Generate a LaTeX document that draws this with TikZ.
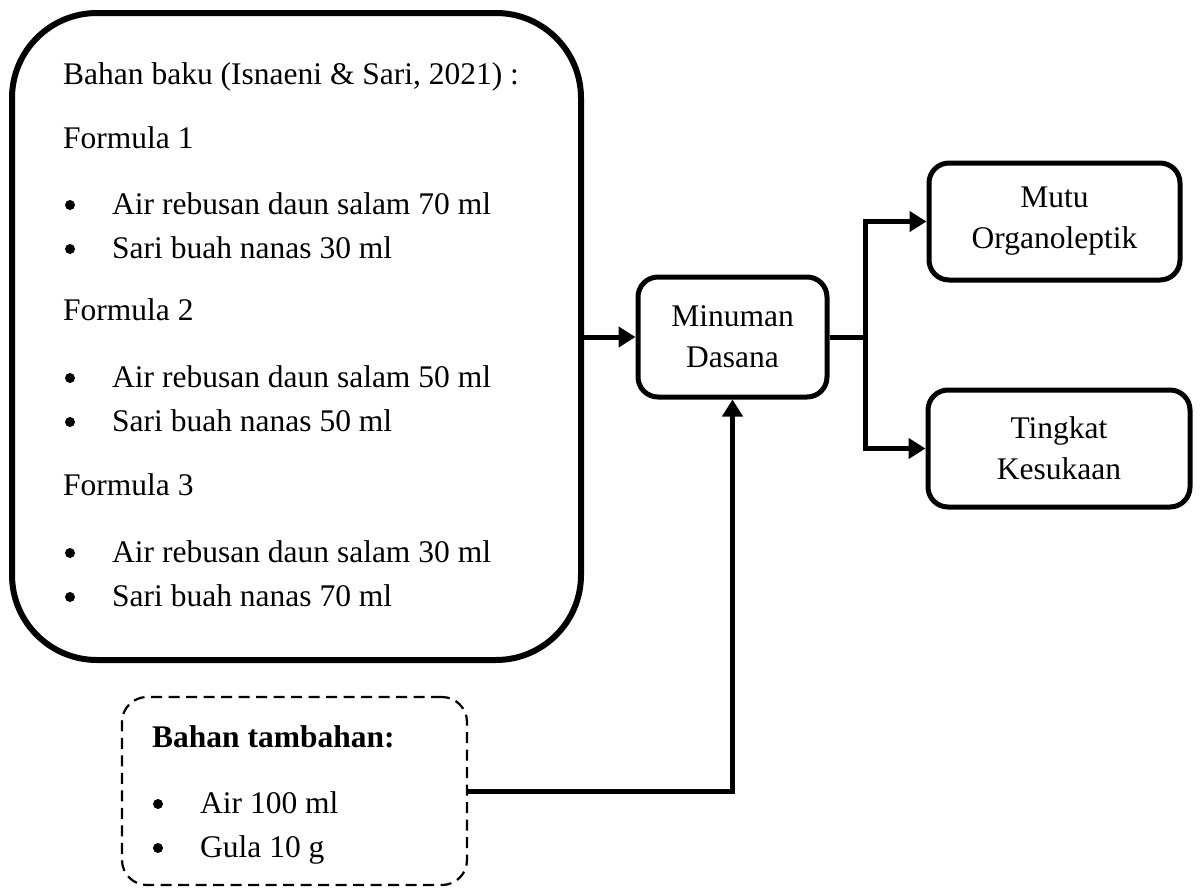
\documentclass[tikz,border=0pt]{standalone}
\usepackage{fontspec}
\setmainfont{Liberation Serif}
\usetikzlibrary{arrows.meta}
\begin{document}
\begin{tikzpicture}[x=1pt,y=-1pt,
  every node/.style={font=\fontsize{31.5}{41}\selectfont, inner sep=0pt},
  bigbox/.style={draw, line width=6pt, rounded corners=85pt},
  procbox/.style={draw, line width=5pt, rounded corners=20pt, align=center},
  dashbox/.style={draw, line width=2.2pt, dash pattern=on 11pt off 6.5pt, rounded corners=25pt},
  conn/.style={line width=5pt, -{Triangle[length=17pt,width=20pt]}},
  plain/.style={line width=5pt},
  txt/.style={anchor=base west},
  dot/.style={circle, fill=black, minimum size=10pt}
]
\useasboundingbox (0,0) rectangle (1200,887);

% boxes
\node[bigbox, minimum width=569pt, minimum height=647pt] (main) at (296.5,336.5) {};
\node[procbox, minimum width=189pt, minimum height=120pt] (minum) at (732.5,337) {Minuman\\Dasana};
\node[procbox, minimum width=251pt, minimum height=117pt] (mutu) at (1054.5,221.5) {Mutu\\Organoleptik};
\node[procbox, minimum width=262pt, minimum height=117pt] (suka) at (1059,448.5) {Tingkat\\Kesukaan};
\node[dashbox, minimum width=345pt, minimum height=188pt] (add) at (294.5,791) {};

% main box text
\node[txt] (t0) at (63,84) {Bahan baku (Isnaeni \& Sari, 2021) :};
\node[txt] (f1) at (63,148) {Formula 1};
\node[dot] (b11) at (70,205) {};
\node[txt] (t11) at (112,214) {Air rebusan daun salam 70 ml};
\node[dot] (b12) at (70,249) {};
\node[txt] (t12) at (112,258) {Sari buah nanas 30 ml};
\node[txt] (f2) at (63,320) {Formula 2};
\node[dot] (b21) at (70,378) {};
\node[txt] (t21) at (112,387) {Air rebusan daun salam 50 ml};
\node[dot] (b22) at (70,422) {};
\node[txt] (t22) at (112,431) {Sari buah nanas 50 ml};
\node[txt] (f3) at (63,495) {Formula 3};
\node[dot] (b31) at (70,553) {};
\node[txt] (t31) at (112,562) {Air rebusan daun salam 30 ml};
\node[dot] (b32) at (70,597) {};
\node[txt] (t32) at (112,606) {Sari buah nanas 70 ml};

% additional box text
\node[txt] (a0) at (152,747) {\textbf{Bahan tambahan:}};
\node[dot] (ab1) at (158,804) {};
\node[txt] (a1) at (200,813) {Air 100 ml};
\node[dot] (ab2) at (158,848) {};
\node[txt] (a2) at (200,857) {Gula 10 g};

% connectors
\draw[conn] (main.east |- minum.west) -- (minum.west);
\coordinate (br) at (865,337);
\draw[plain] (minum.east) -- (br);
\draw[conn] (br) |- (mutu.west);
\draw[conn] (br) |- (suka.west);
\draw[conn] (add.east) -| (minum.south);
\end{tikzpicture}
\end{document}
